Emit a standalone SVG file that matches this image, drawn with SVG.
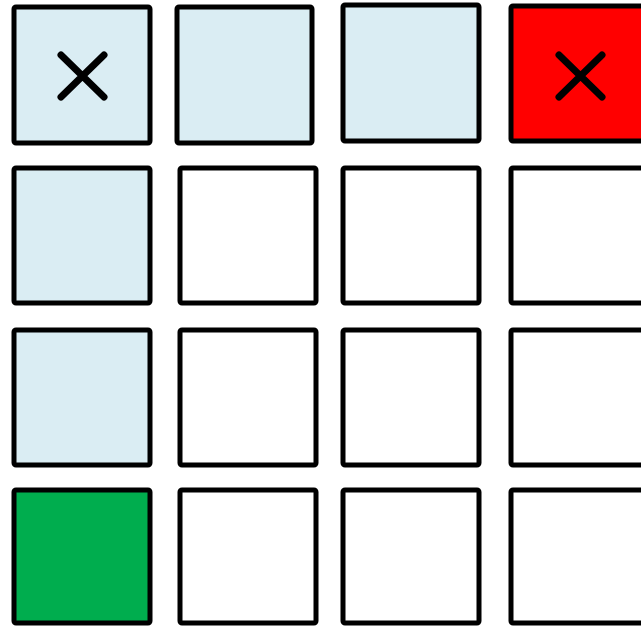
<svg xmlns="http://www.w3.org/2000/svg" width="641" height="627" viewBox="0 0 641 627">
<style>
rect{stroke:#000;stroke-width:5;rx:2;}
.b{fill:#DAEDF3;}
.w{fill:#FFFFFF;}
.r{fill:#FF0000;}
.g{fill:#00AD4E;}
.x{stroke:#000;stroke-width:7;stroke-linecap:round;fill:none;}
</style>
<rect width="641" height="627" fill="#fff" style="stroke:none"/>
<g id="r1c1"><rect class="b" x="14" y="7" width="136" height="136"/><path class="x" d="M61 55 L104 97 M104 55 L61 97"/></g>
<g id="r1c2"><rect class="b" x="177" y="7" width="135" height="136"/></g>
<g id="r1c3"><rect class="b" x="343" y="5" width="136" height="136"/></g>
<g id="r1c4"><rect class="r" x="511" y="6" width="136" height="135"/><path class="x" d="M559 55 L602 97 M602 55 L559 97"/></g>
<g id="r2c1"><rect class="b" x="14" y="168" width="136" height="135"/></g>
<g id="r2c2"><rect class="w" x="180" y="168" width="136" height="135"/></g>
<g id="r2c3"><rect class="w" x="343" y="168" width="136" height="135"/></g>
<g id="r2c4"><rect class="w" x="511" y="168" width="136" height="135"/></g>
<g id="r3c1"><rect class="b" x="14" y="330" width="136" height="135"/></g>
<g id="r3c2"><rect class="w" x="180" y="330" width="136" height="135"/></g>
<g id="r3c3"><rect class="w" x="343" y="330" width="136" height="135"/></g>
<g id="r3c4"><rect class="w" x="511" y="330" width="136" height="135"/></g>
<g id="r4c1"><rect class="g" x="14" y="490" width="136" height="133"/></g>
<g id="r4c2"><rect class="w" x="180" y="490" width="136" height="133"/></g>
<g id="r4c3"><rect class="w" x="343" y="490" width="136" height="133"/></g>
<g id="r4c4"><rect class="w" x="511" y="490" width="136" height="133"/></g>
<g id="connectors"></g>
</svg>
